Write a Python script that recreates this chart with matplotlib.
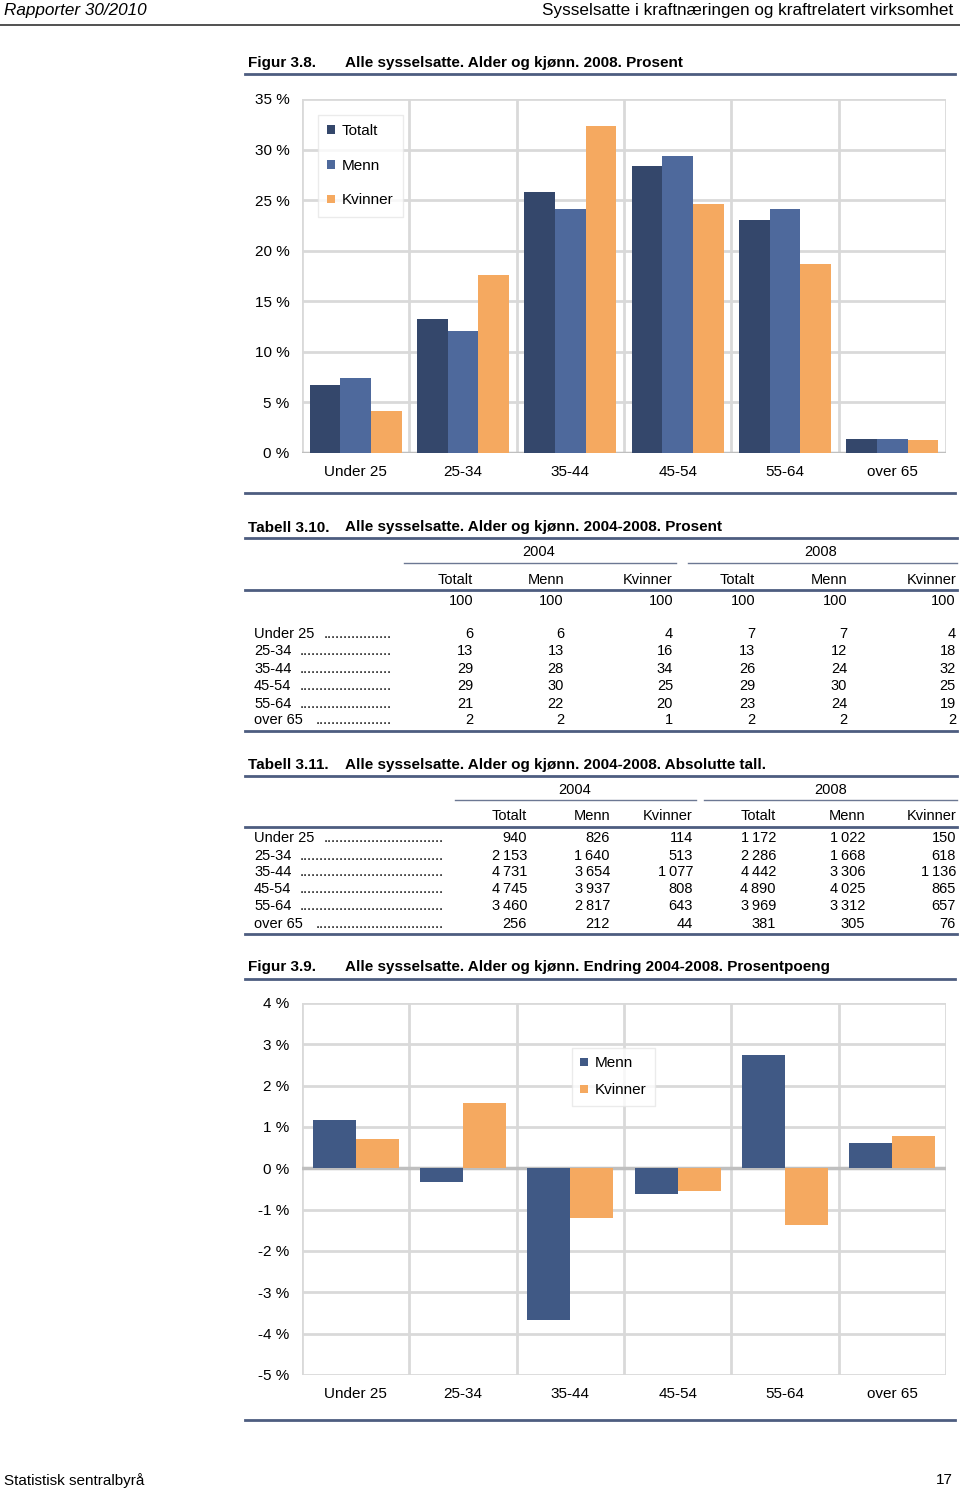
import matplotlib.pyplot as plt
from matplotlib.lines import Line2D
import numpy as np

plt.rcParams['font.family'] = ['Liberation Sans', 'DejaVu Sans']

W, H = 960, 1489

# data
ages = ["Under 25", "25-34", "35-44", "45-54", "55-64", "over 65"]

# Figur 3.8, prosent 2008
totalt_08 = [6.7, 13.2, 25.8, 28.4, 23.0, 1.4]
menn_08 = [7.4, 12.1, 24.1, 29.4, 24.1, 1.4]
kvinner_08 = [4.2, 17.6, 32.3, 24.6, 18.7, 1.3]

# Tabell 3.10, prosent
pct_2004 = [[6, 6, 4], [13, 13, 16], [29, 28, 34], [29, 30, 25], [21, 22, 20], [2, 2, 1]]
pct_2008 = [[7, 7, 4], [13, 12, 18], [26, 24, 32], [29, 30, 25], [23, 24, 19], [2, 2, 2]]

# Tabell 3.11, absolutte tall
abs_2004 = [[940, 826, 114], [2153, 1640, 513], [4731, 3654, 1077],
            [4745, 3937, 808], [3460, 2817, 643], [256, 212, 44]]
abs_2008 = [[1172, 1022, 150], [2286, 1668, 618], [4442, 3306, 1136],
            [4890, 4025, 865], [3969, 3312, 657], [381, 305, 76]]

# Figur 3.9, endring i prosentpoeng
menn_endr = [1.17, -0.32, -3.68, -0.61, 2.73, 0.61]
kvinner_endr = [0.72, 1.58, -1.21, -0.56, -1.37, 0.78]

c_tot = '#34476b'
c_menn = '#4e699c'
c_menn2 = '#405985'
c_kv = '#f5a960'
c_line = '#4d5d80'
c_grid = '#d9d9d9'

fig = plt.figure(figsize=(W / 100, H / 100), dpi=100)


def px(x, y):
    return x / W, 1 - y / H


def txt(x, y, s, size=10.5, ha='left', weight='normal', style='normal', va='center'):
    # +1.5 px: matplotlib centres a bit higher than the page text
    fx, fy = px(x, y + 1.5)
    fig.text(fx, fy, s, fontsize=size, ha=ha, va=va, fontweight=weight, fontstyle=style)


def hline(x0, x1, y, lw=1.5, color=c_line):
    fig.add_artist(Line2D([x0 / W, x1 / W], [1 - y / H] * 2, color=color, lw=lw,
                          transform=fig.transFigure))


def fmt(n):
    return f"{n:,}".replace(",", "\u2009")


# header / footer
txt(4, 9, "Rapporter 30/2010", size=12.3, style='italic')
txt(953, 9, "Sysselsatte i kraftnæringen og kraftrelatert virksomhet", size=12.3, ha='right')
hline(0, 960, 25, lw=1.2, color='#333333')
txt(4, 1479, "Statistisk sentralbyrå", size=11)
txt(953, 1479, "17", size=11, ha='right')


def style_axes(ax, ylo, yhi, step, laby):
    ax.set_xlim(0, len(ages))
    ax.set_ylim(ylo, yhi)
    ticks = np.arange(ylo, yhi + step / 2, step)
    ax.set_yticks(ticks)
    ax.set_yticklabels([f"{int(v)} %" for v in ticks])
    ax.set_xticks([])
    for v in ticks:
        ax.axhline(v, color=c_grid, lw=2, zorder=0)
    for i in range(len(ages) + 1):
        ax.axvline(i, color=c_grid, lw=2, zorder=0)
    for s in ax.spines.values():
        s.set_visible(False)
    ax.tick_params(axis='y', length=0, pad=9, labelsize=11)
    for i, a in enumerate(ages):
        ax.text(i + 0.5, laby, a, transform=ax.get_xaxis_transform(), ha='center',
                va='center', fontsize=11)


def legend(ax, x, y, spacing, pad):
    leg = ax.legend(loc='upper left', bbox_to_anchor=(x, y), borderaxespad=0, fontsize=11,
                    frameon=True, fancybox=False, edgecolor='#e6e6e6', handlelength=0.5,
                    handleheight=0.5, handletextpad=0.45, labelspacing=spacing, borderpad=pad)
    leg.get_frame().set_linewidth(1)
    return leg


# Figur 3.8
txt(248, 61, "Figur 3.8.", size=11, weight='bold')
txt(345, 61, "Alle sysselsatte. Alder og kjønn. 2008. Prosent", size=11, weight='bold')
hline(245, 955, 74, lw=2)

x0, y0 = px(302, 453)
ax1 = fig.add_axes([x0, y0, (946 - 302) / W, (453 - 99) / H])
style_axes(ax1, 0, 35, 5, -0.055)
ax1.axhline(0, color='#bfbfbf', lw=2.5, zorder=1)
xs = np.arange(len(ages)) + 0.5
bw = 0.285
ax1.bar(xs - bw, totalt_08, bw, color=c_tot, zorder=2, label="Totalt")
ax1.bar(xs, menn_08, bw, color=c_menn, zorder=2, label="Menn")
ax1.bar(xs + bw, kvinner_08, bw, color=c_kv, zorder=2, label="Kvinner")
legend(ax1, 0.025, 0.955, 1.35, 0.6)
hline(245, 955, 493, lw=2)

# Tables
col_keys = ["Totalt", "Menn", "Kvinner"]


def table(title_no, title, ytitle, y_line1, yyear, year_spans, year_cx, y_uline, yhead, head_r,
          y_line2, y100, rows_y, y_end, data04, data08, dots):
    txt(248, ytitle, title_no, size=11, weight='bold')
    txt(345, ytitle, title, size=11, weight='bold')
    hline(245, 957, y_line1, lw=2)
    txt(year_cx[0], yyear, "2004", ha='center')
    txt(year_cx[1], yyear, "2008", ha='center')
    for (a, b) in year_spans:
        hline(a, b, y_uline, lw=1.0, color='#6c7893')
    for i in range(6):
        txt(head_r[i], yhead, col_keys[i % 3], ha='right')
    hline(245, 957, y_line2, lw=2)
    if y100 is not None:
        for i in range(6):
            txt(head_r[i], y100, "100", ha='right')
    for r, a in enumerate(ages):
        y = rows_y[r]
        txt(254, y, a)
        txt(dots[1], y, "." * dots[0][r], ha='right')
        vals = list(data04[r]) + list(data08[r])
        for i, v in enumerate(vals):
            txt(head_r[i], y, fmt(v), ha='right')
    hline(245, 957, y_end, lw=2)


table("Tabell 3.10.", "Alle sysselsatte. Alder og kjønn. 2004-2008. Prosent",
      526, 538, 551, [(404, 676), (688, 957)], [539, 821], 563, 578,
      [473, 564, 673, 755, 847, 956], 590, 600, [633, 650, 667, 685, 702, 719], 731,
      pct_2004, pct_2008, ([17, 23, 23, 23, 23, 19], 392))

table("Tabell 3.11.", "Alle sysselsatte. Alder og kjønn. 2004-2008. Absolutte tall.",
      763, 776, 788, [(455, 696), (704, 957)], [575, 831], 800, 815,
      [527, 610, 693, 776, 865, 956], 827, None, [837, 854, 871, 888, 905, 922], 934,
      abs_2004, abs_2008, ([30, 36, 36, 36, 36, 32], 444))

# Figur 3.9
txt(248, 966, "Figur 3.9.", size=11, weight='bold')
txt(345, 966, "Alle sysselsatte. Alder og kjønn. Endring 2004-2008. Prosentpoeng", size=11,
    weight='bold')
hline(245, 955, 979, lw=2)

x0, y0 = px(302, 1375)
ax2 = fig.add_axes([x0, y0, (946 - 302) / W, (1375 - 1003) / H])
style_axes(ax2, -5, 4, 1, -0.05)
ax2.axhline(0, color='#bfbfbf', lw=2.5, zorder=1)
bw2 = 0.40
ax2.bar(xs - bw2 / 2, menn_endr, bw2, color=c_menn2, zorder=2, label="Menn")
ax2.bar(xs + bw2 / 2, kvinner_endr, bw2, color=c_kv, zorder=2, label="Kvinner")
legend(ax2, 0.419, 0.879, 0.85, 0.55)
hline(245, 955, 1420, lw=2)

plt.savefig('out.png', dpi=100)
